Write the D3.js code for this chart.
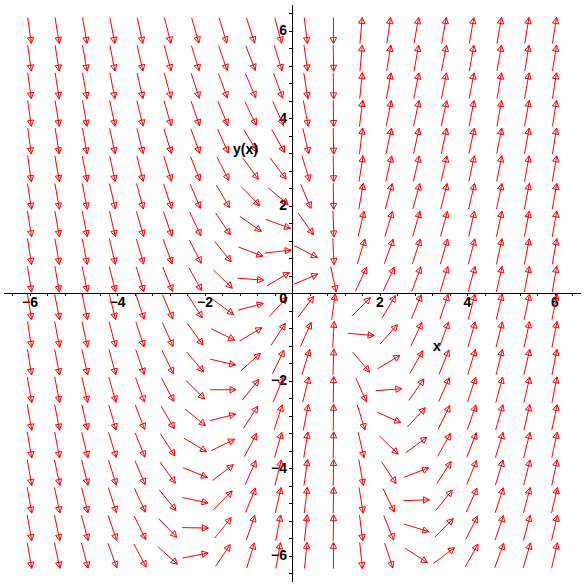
<!DOCTYPE html>
<html>
<head>
<meta charset="utf-8">
<script src="https://cdn.jsdelivr.net/npm/d3@7"></script>
<style>
  body { margin: 0; background: #fff; }
  svg { display: block; }
  text { font-family: "Liberation Sans Narrow", "Liberation Sans", Arial, sans-serif; font-weight: bold; fill: #000; }
</style>
</head>
<body>
<svg id="chart" width="584" height="584"></svg>
<script>
// sample points of the direction field (x and y(x) values)
var colX = [-6, -5.368, -4.737, -4.105, -3.474, -2.842, -2.211, -1.579, -0.947, -0.316,
            0.316, 0.947, 1.579, 2.211, 2.842, 3.474, 4.105, 4.737, 5.368, 6];
var rowY = [-6, -5.368, -4.737, -4.105, -3.474, -2.842, -2.211, -1.579, -0.947, -0.316,
            0.316, 0.947, 1.579, 2.211, 2.842, 3.474, 4.105, 4.737, 5.368, 6];

// arrow angle in degrees, one list per column, bottom row first
var slopeAngles = [
  [-80,-80,-80,-80,-80,-80,-80,-81,-81,-81,-81,-81,-81,-81,-82,-82,-82,-82,-82,-82],
  [-78,-78,-78,-78,-79,-79,-79,-79,-79,-79,-80,-80,-80,-80,-80,-81,-81,-81,-81,-81],
  [-75,-75,-76,-76,-76,-77,-77,-77,-78,-78,-78,-79,-79,-79,-79,-80,-80,-80,-80,-80],
  [-70,-71,-72,-73,-73,-74,-74,-75,-75,-76,-76,-77,-77,-77,-78,-78,-78,-79,-79,-79],
  [-62,-64,-65,-67,-68,-69,-70,-71,-72,-72,-73,-74,-74,-75,-76,-76,-76,-77,-77,-78],
  [-42,-46,-51,-54,-57,-60,-62,-64,-66,-67,-68,-70,-71,-72,-73,-73,-74,-75,-75,-76],
  [11,-1,-12,-22,-31,-39,-45,-50,-54,-58,-61,-63,-65,-67,-69,-70,-71,-72,-73,-74],
  [56,51,45,37,26,14,0,-13,-26,-36,-44,-51,-56,-60,-63,-66,-68,-70,-71,-73],
  [73,71,68,66,62,57,51,42,31,15,-4,-21,-35,-46,-54,-59,-64,-67,-69,-72],
  [80,79,77,76,74,72,68,64,57,47,31,6,-20,-40,-53,-61,-66,-70,-73,-75],
  [84,84,83,82,81,79,76,73,66,53,23,-27,-55,-67,-73,-77,-79,-81,-82,-83],
  [90,89,89,89,89,89,89,88,87,82,-78,-87,-88,-89,-89,-89,-89,-89,-89,-90],
  [-84,-83,-81,-80,-77,-73,-66,-50,-5,45,65,73,77,80,81,83,83,84,85,85],
  [-72,-68,-64,-56,-44,-24,4,31,48,59,65,70,73,75,77,78,79,80,81,82],
  [-33,-17,2,21,36,47,55,60,65,68,70,72,74,75,77,78,78,79,80,80],
  [37,45,51,57,61,64,66,68,70,72,73,74,75,76,77,78,78,79,79,80],
  [61,63,66,68,69,71,72,73,74,75,75,76,77,77,78,78,79,79,80,80],
  [70,71,72,73,73,74,75,76,76,77,77,78,78,78,79,79,80,80,80,80],
  [74,75,75,76,76,77,77,77,78,78,79,79,79,79,80,80,80,80,81,81],
  [77,77,77,78,78,78,79,79,79,79,80,80,80,80,80,81,81,81,81,81]
];

var xTickLabels = [-6, -4, -2, 2, 4, 6];
var yTickLabels = [-6, -4, -2, 2, 4, 6];

var svg = d3.select("#chart");

var x = d3.scaleLinear().domain([-6.6, 6.6]).range([3.25, 580.75]);
var y = d3.scaleLinear().domain([-6.6, 6.6]).range([581.75, 4.25]);

var minorTicks = d3.range(-16, 17).map(function(k) { return k * 0.4; });

// x axis through the origin
var xAxisG = svg.append("g").attr("transform", "translate(0," + y(0) + ")");
xAxisG.call(d3.axisBottom(x).tickValues(minorTicks).tickSize(3).tickSizeOuter(0).tickFormat(""));
var xLab = svg.append("g").attr("transform", "translate(0," + y(0) + ")");
xLab.call(d3.axisBottom(x).tickValues(xTickLabels).tickSize(0).tickPadding(4.5).tickFormat(d3.format("d")));
xLab.select(".domain").remove();

// y axis through the origin
var yAxisG = svg.append("g").attr("transform", "translate(" + x(0) + ",0)");
yAxisG.call(d3.axisLeft(y).tickValues(minorTicks).tickSize(3).tickSizeOuter(0).tickFormat(""));
var yLab = svg.append("g").attr("transform", "translate(" + x(0) + ",0)");
yLab.call(d3.axisLeft(y).tickValues(yTickLabels).tickSize(0).tickPadding(5).tickFormat(d3.format("d")));
yLab.select(".domain").remove();

svg.selectAll(".domain, .tick line")
    .attr("stroke", "#000")
    .attr("shape-rendering", "crispEdges");
svg.selectAll(".tick text")
    .attr("fill", "#000")
    .style("font-size", "14px")
    .style("font-family", null);

// arrows
var arrowLen = 0.6; // data units
var headLen = 6, headHalf = 3.2;
var arrows = [];
colX.forEach(function(cx, i) {
    rowY.forEach(function(cy, j) {
        var a = slopeAngles[i][j] * Math.PI / 180;
        var h = arrowLen / 2;
        var x0 = x(cx - h * Math.cos(a)), y0 = y(cy - h * Math.sin(a));
        var x1 = x(cx + h * Math.cos(a)), y1 = y(cy + h * Math.sin(a));
        arrows.push({x0: x0, y0: y0, x1: x1, y1: y1});
    });
});

var arrowG = svg.append("g")
    .attr("stroke", "#ff0000")
    .attr("fill", "none")
    .attr("stroke-width", 1);

arrowG.selectAll("line")
    .data(arrows)
    .enter()
    .append("line")
    .attr("x1", function(d) { return d.x0; })
    .attr("y1", function(d) { return d.y0; })
    .attr("x2", function(d) { return d.x1; })
    .attr("y2", function(d) { return d.y1; });

arrowG.selectAll("polygon")
    .data(arrows)
    .enter()
    .append("polygon")
    .attr("points", function(d) {
        var dx = d.x1 - d.x0, dy = d.y1 - d.y0;
        var len = Math.sqrt(dx * dx + dy * dy);
        var ux = dx / len, uy = dy / len;
        var bx = d.x1 - headLen * ux, by = d.y1 - headLen * uy;
        return [
            [d.x1, d.y1],
            [bx - headHalf * uy, by + headHalf * ux],
            [bx + headHalf * uy, by - headHalf * ux]
        ].map(function(p) { return p[0].toFixed(2) + "," + p[1].toFixed(2); }).join(" ");
    });

// origin label and axis titles
svg.append("text")
    .attr("x", x(0) - 5)
    .attr("y", y(0) + 10)
    .attr("text-anchor", "end")
    .style("font-size", "14px")
    .text("0");

svg.append("text")
    .attr("x", 233)
    .attr("y", 154)
    .style("font-size", "14px")
    .text("y(x)");

svg.append("text")
    .attr("x", 433)
    .attr("y", 351)
    .style("font-size", "14px")
    .text("x");
</script>
</body>
</html>
